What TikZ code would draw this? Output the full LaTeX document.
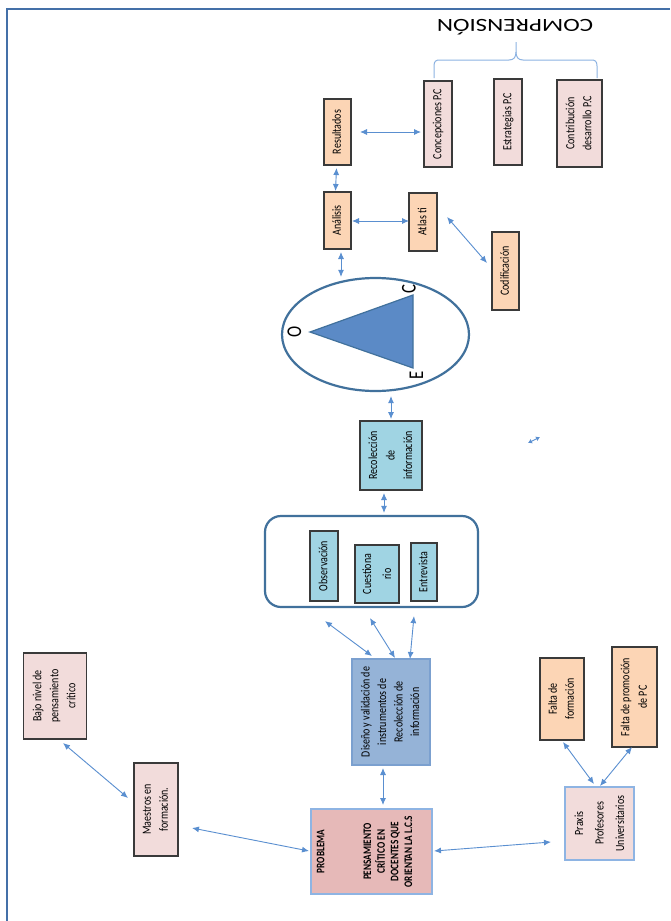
\documentclass[tikz,border=0pt]{standalone}
\usepackage{fontspec}
\setmainfont{Carlito}
\usetikzlibrary{arrows.meta,shapes.geometric,calc}
\definecolor{peach}{HTML}{FCD5B5}
\definecolor{pinkbox}{HTML}{F2DCDB}
\definecolor{aqua}{HTML}{A0D4E3}
\definecolor{disfill}{HTML}{95B3D7}
\definecolor{disdraw}{HTML}{7BA0CF}
\definecolor{probfill}{HTML}{E6B9B8}
\definecolor{lightdraw}{HTML}{8EB4E3}
\definecolor{boxdraw}{HTML}{3A3A3A}
\definecolor{arrowc}{HTML}{5A8FD0}
\definecolor{framec}{HTML}{4470A8}
\definecolor{darkblue}{HTML}{41719C}
\definecolor{trifill}{HTML}{5B8AC6}
\definecolor{bracec}{HTML}{8DB3E2}
\newcommand\rtext[2][17]{\rotatebox{90}{\scalebox{0.8}[1]{\fontsize{12.5}{#1}\selectfont\begin{tabular}{@{}c@{}}#2\end{tabular}}}}
\begin{document}
\begin{tikzpicture}[x=1pt,y=-1pt,
  box/.style={draw=boxdraw, line width=1.1pt, inner sep=0pt, outer sep=0pt},
  arr/.style={draw=arrowc, line width=0.9pt, {Latex[length=7pt,width=6pt]}-{Latex[length=7pt,width=6pt]}},
  lbl/.style={inner sep=0pt}]
\useasboundingbox (0,0) rectangle (670,921);
\fill[white] (0,0) rectangle (670,921);
% frame
\draw[framec, line width=2.5pt] (7,921) -- (7,9) -- (670,9);

% top title and brace
\node[lbl] (compr) at (515,27) {\rotatebox{180}{\scalebox{1.35}[1]{\fontsize{18.5}{20}\selectfont COMPRENSIÓN}}};
\draw[bracec, line width=1pt] (434,78) -- (434,66) .. controls (434,61) and (436,60) .. (440,60) -- (509,60) .. controls (514,60) and (516,57) .. (516,52) -- (516,42);
\draw[bracec, line width=1pt] (597,78) -- (597,66) .. controls (597,61) and (595,60) .. (591,60) -- (523,60) .. controls (518,60) and (516,57) .. (516,52);

% nodes, upper part
\node[box, fill=peach, minimum width=27, minimum height=66] (res) at (337.5,132) {\rtext{Resultados}};
\node[box, fill=pinkbox, minimum width=28, minimum height=86] (conc) at (438,124) {\rtext{Concepciones P.C}};
\node[box, fill=pinkbox, minimum width=28, minimum height=86] (estr) at (508,122) {\rtext{Estrategias P.C}};
\node[box, fill=pinkbox, minimum width=45, minimum height=87] (contr) at (579.5,123.5) {\rtext{Contribución\\desarrollo P.C}};
\node[box, fill=peach, minimum width=27, minimum height=57] (ana) at (337.5,220.5) {\rtext{Análisis}};
\node[box, fill=peach, minimum width=28, minimum height=58] (atlas) at (423,222) {\rtext{Atlas ti}};
\node[box, fill=peach, minimum width=27, minimum height=78] (cod) at (505.5,271) {\rtext{Codificación}};

% ellipse with triangle
\node[ellipse, draw=darkblue, line width=2.2pt, fill=white, minimum width=187, minimum height=113, inner sep=0pt] (ell) at (375.5,334.5) {};
\draw[draw=darkblue, line width=1.2pt, fill=trifill] (310,332) -- (413,295) -- (413,368) -- cycle;
\node[lbl] (lo) at (294.5,331.5) {\rotatebox{90}{\scalebox{0.8}[1]{\fontsize{21}{22}\selectfont O}}};
\node[lbl] (lc) at (409,289) {\rotatebox{90}{\scalebox{0.8}[1]{\fontsize{21}{22}\selectfont C}}};
\node[lbl] (le) at (416.5,375) {\rotatebox{90}{\scalebox{0.8}[1]{\fontsize{21}{22}\selectfont E}}};

\node[box, fill=aqua, minimum width=62, minimum height=69] (rec) at (391,455.5) {\rtext[17.5]{Recolección\\de\\información}};

% group of instruments
\node[draw=darkblue, line width=2.2pt, rounded corners=16pt, minimum width=213, minimum height=91, inner sep=0pt] (grp) at (371.5,561.5) {};
\node[box, fill=aqua, minimum width=28, minimum height=70] (obs) at (324,566) {\rtext{Observación}};
\node[box, fill=aqua, minimum width=44, minimum height=58] (cues) at (377,574) {\rtext[20]{Cuestiona\\rio}};
\node[box, fill=aqua, minimum width=26, minimum height=58] (entr) at (424,572) {\rtext{Entrevista}};

\node[box, draw=disdraw, fill=disfill, minimum width=78, minimum height=106] (dis) at (391,712) {\rtext[16.5]{Diseño y validación de\\instrumentos de\\Recolección de\\información}};

% lower part
\node[box, fill=pinkbox, minimum width=62.5, minimum height=86] (bajo) at (55,696) {\rtext{Bajo nivel de\\pensamiento\\crítico}};
\node[box, fill=pinkbox, minimum width=44, minimum height=93] (maes) at (156,809.5) {\rtext{Maestros en\\formación.}};
\node[box, draw=lightdraw, fill=probfill, minimum width=121, minimum height=85] (prob) at (371.5,851.5) {\rotatebox{90}{\scalebox{0.8}[1]{\fontsize{11.5}{13.7}\selectfont\bfseries\begin{tabular}{@{}c@{}}PROBLEMA\\[33pt]PENSAMIENTO\\CRÍTICO EN\\DOCENTES QUE\\ORIENTAN LA L.C.S\\[12pt]\end{tabular}}}};
\node[box, draw=lightdraw, fill=pinkbox, minimum width=69, minimum height=73] (prax) at (599.5,823.5) {\rtext[20.5]{Praxis\\Profesores\\Universitarios}};
\node[box, fill=peach, minimum width=44, minimum height=82] (ff) at (562,699) {\rtext{Falta de\\formación}};
\node[box, fill=peach, minimum width=45, minimum height=100] (fp) at (634.5,697) {\rtext[17.5]{Falta de promoción\\de PC}};

% connectors
\draw[arr] ([shift={(9,0)}]res.east) -- ([shift={(-3,0)}]conc.west |- res.east);
\draw[arr] ([shift={(-1,3)}]res.south) -- ([shift={(-2,-1)}]ana.north);
\draw[arr] ([shift={(1,0.5)}]ana.east) -- ([shift={(0,-1)}]atlas.west);
\draw[arr] ([shift={(10,-5)}]atlas.east) -- ([shift={(-5,-8)}]cod.west);
\draw[arr] ([shift={(3.5,3)}]ana.south) -- ([shift={(3.5,0)}]ana.south |- ell.north);
\draw[arr] ([shift={(0,4)}]rec.north |- ell.south) -- ([shift={(0,-2)}]rec.north);
\draw[arr] ([shift={(-7,3)}]rec.south) -- ([shift={(12.5,-2)}]grp.north);
\draw[arr] ([shift={(-46.5,13)}]grp.south) -- ([shift={(-19,-3)}]dis.north);
\draw[arr] ([shift={(-1.5,10)}]grp.south) -- ([shift={(4,-1)}]dis.north);
\draw[arr] ([shift={(42.5,8)}]grp.south) -- ([shift={(19,0)}]dis.north);
\draw[arr] ([shift={(-8,3)}]dis.south) -- ([shift={(11.5,-4)}]prob.north);
\draw[arr] ([shift={(8,4)}]bajo.south) -- ([shift={(-6,-11.5)}]maes.west);
\draw[arr] ([shift={(14,18.5)}]maes.east) -- ([shift={(-2,-0.5)}]prob.west);
\draw[arr] ([shift={(2,-0.5)}]prob.east) -- ([shift={(-14,18.5)}]prax.west);
\draw[arr] ([shift={(1,2)}]ff.south) -- ([shift={(-5.5,-3)}]prax.north);
\draw[arr] ([shift={(-2.5,0)}]fp.south) -- ([shift={(0.5,-1)}]prax.north);

% stray small arrow
\coordinate (s1) at (528,443);
\coordinate (s2) at (540,437);
\draw[draw=arrowc, line width=0.9pt, {Latex[length=4pt,width=5pt]}-{Latex[length=4pt,width=5pt]}] (s1) -- (s2);
\end{tikzpicture}
\end{document}
